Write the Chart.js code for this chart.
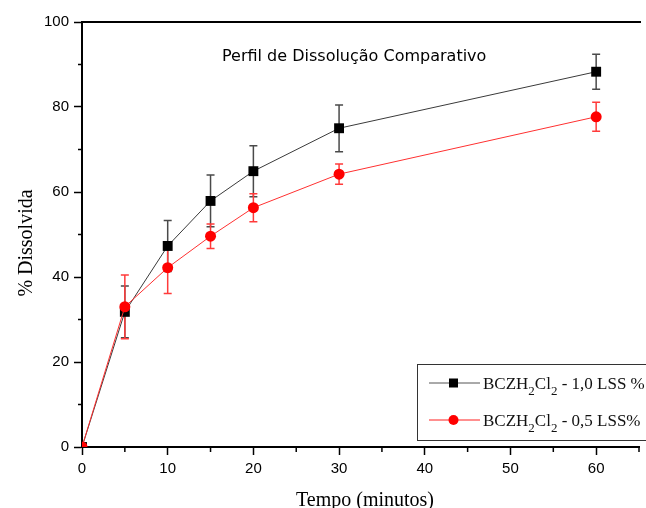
<!DOCTYPE html>
<html>
<head>
<meta charset="utf-8">
<script src="https://cdn.jsdelivr.net/npm/chart.js@4.4.0/dist/chart.umd.min.js"></script>
<style>
  html, body { margin: 0; padding: 0; background: #fff; overflow: hidden; }
  #wrap { width: 646px; height: 508px; }
</style>
</head>
<body>
<div id="wrap"><canvas id="chart" width="646" height="508"></canvas></div>
<script>
// dissolution profile: time (min) vs % dissolved, mean ± sd
const times = [0, 5, 10, 15, 20, 30, 60];
const dissolved10 = [0, 31.8, 47.3, 57.9, 64.9, 75.0, 88.3];
const sd10 = [0, 6.1, 6.0, 6.1, 6.0, 5.5, 4.1];
const dissolved05 = [0, 33.0, 42.2, 49.6, 56.3, 64.2, 77.7];
const sd05 = [0, 7.5, 6.1, 2.9, 3.3, 2.4, 3.4];
const xTicks = [0, 10, 20, 30, 40, 50, 60];
const xMinor = [5, 15, 25, 35, 45, 55, 65];
const yMinor = [10, 30, 50, 70, 90];

const chartTitle = 'Perfil de Dissolução Comparativo';
const xTitle = 'Tempo (minutos)';
const yTitle = '% Dissolvida';
// legend labels, split into [text, isSubscript]
const legend10 = [['BCZH', 0], ['2', 1], ['Cl', 0], ['2', 1], [' - 1,0 LSS %', 0]];
const legend05 = [['BCZH', 0], ['2', 1], ['Cl', 0], ['2', 1], [' - 0,5 LSS%', 0]];

const toPoints = (ys) => times.map((t, i) => ({ x: t, y: ys[i] }));

const SERIF = '"Liberation Serif", "Times New Roman", serif';
const SANS = '"Liberation Sans", Arial, sans-serif';

function drawRich(ctx, parts, x, y) {
  for (const [txt, sub] of parts) {
    ctx.font = sub ? '13px ' + SERIF : '17px ' + SERIF;
    ctx.fillText(txt, x, sub ? y + 6 : y);
    x += ctx.measureText(txt).width;
  }
}

const extras = {
  id: 'extras',
  beforeDatasetsDraw(chart) {
    const { ctx, scales: { x, y } } = chart;
    const bars = [
      { ys: dissolved10, err: sd10, color: '#4a4a4a' },
      { ys: dissolved05, err: sd05, color: '#ff3b3b' }
    ];
    ctx.save();
    ctx.lineWidth = 1.5;
    bars.forEach(b => {
      ctx.strokeStyle = b.color;
      times.forEach((t, i) => {
        if (!b.err[i]) return;
        const px = x.getPixelForValue(t);
        const top = y.getPixelForValue(b.ys[i] + b.err[i]);
        const bot = y.getPixelForValue(b.ys[i] - b.err[i]);
        ctx.beginPath();
        ctx.moveTo(px, top); ctx.lineTo(px, bot);
        ctx.moveTo(px - 4, top); ctx.lineTo(px + 4, top);
        ctx.moveTo(px - 4, bot); ctx.lineTo(px + 4, bot);
        ctx.stroke();
      });
    });
    ctx.restore();
  },
  afterDraw(chart) {
    const { ctx, chartArea: a, scales: { x, y } } = chart;
    ctx.save();
    ctx.strokeStyle = '#000';
    ctx.lineWidth = 2;
    // top frame
    ctx.beginPath();
    ctx.moveTo(a.left - 1, a.top);
    ctx.lineTo(a.right + 2, a.top);
    ctx.stroke();
    // minor ticks
    ctx.lineWidth = 1.5;
    ctx.beginPath();
    xMinor.forEach(v => {
      const px = x.getPixelForValue(v);
      ctx.moveTo(px, a.bottom); ctx.lineTo(px, a.bottom + 5);
    });
    yMinor.forEach(v => {
      const py = y.getPixelForValue(v);
      ctx.moveTo(a.left, py); ctx.lineTo(a.left - 4, py);
    });
    ctx.stroke();

    // chart title
    ctx.fillStyle = '#000';
    ctx.font = '16px "DejaVu Sans", Tahoma, sans-serif';
    ctx.textBaseline = 'alphabetic';
    ctx.textAlign = 'left';
    ctx.fillText(chartTitle, 222, 61);

    // axis titles
    ctx.font = '20px ' + SERIF;
    ctx.textAlign = 'center';
    ctx.fillText(xTitle, 365, 506);
    ctx.save();
    ctx.translate(32, 243);
    ctx.rotate(-Math.PI / 2);
    ctx.fillText(yTitle, 0, 0);
    ctx.restore();

    // legend box
    ctx.fillStyle = '#fff';
    ctx.fillRect(417, 364, 240, 76);
    ctx.strokeStyle = '#333';
    ctx.lineWidth = 1;
    ctx.strokeRect(417.5, 364.5, 240, 76);
    const rows = [
      { parts: legend10, y: 383, color: '#555', marker: 'sq' },
      { parts: legend05, y: 420, color: '#ff2020', marker: 'dot' }
    ];
    rows.forEach(r => {
      ctx.strokeStyle = r.color;
      ctx.lineWidth = 1;
      ctx.beginPath();
      ctx.moveTo(429, r.y); ctx.lineTo(480, r.y);
      ctx.stroke();
      if (r.marker === 'sq') {
        ctx.fillStyle = '#000';
        ctx.fillRect(449, r.y - 4.5, 9, 9);
      } else {
        ctx.fillStyle = '#ff0000';
        ctx.beginPath();
        ctx.arc(453.5, r.y, 5, 0, Math.PI * 2);
        ctx.fill();
      }
      ctx.fillStyle = '#111';
      ctx.textAlign = 'left';
      drawRich(ctx, r.parts, 483, r.y + 6);
    });
    ctx.restore();
  }
};

new Chart(document.getElementById('chart'), {
  type: 'line',
  data: {
    datasets: [
      {
        label: 'BCZH2Cl2 - 1,0 LSS %',
        data: toPoints(dissolved10),
        order: 1,
        borderColor: '#3a3a3a',
        borderWidth: 1,
        pointStyle: 'rect',
        pointRadius: 7,
        pointBackgroundColor: '#000',
        pointBorderColor: '#000',
        pointBorderWidth: 0,
        tension: 0
      },
      {
        label: 'BCZH2Cl2 - 0,5 LSS%',
        data: toPoints(dissolved05),
        order: 0,
        borderColor: '#ff3030',
        borderWidth: 1,
        pointStyle: 'circle',
        pointRadius: 5.5,
        pointBackgroundColor: '#ff0000',
        pointBorderColor: '#ff0000',
        pointBorderWidth: 0,
        tension: 0
      }
    ]
  },
  options: {
    responsive: false,
    animation: false,
    layout: { padding: { left: 0, top: 22, right: 0, bottom: 0 } },
    plugins: { legend: { display: false }, tooltip: { enabled: false } },
    scales: {
      x: {
        type: 'linear',
        min: 0,
        max: 65,
        afterBuildTicks: (s) => { s.ticks = xTicks.map(v => ({ value: v })); },
        afterFit: (s) => { s.height = 61; },
        grid: { drawOnChartArea: false, drawTicks: true, tickLength: 8, tickColor: '#000', tickWidth: 1.5 },
        border: { display: true, color: '#000', width: 2 },
        ticks: { color: '#000', font: { family: SANS, size: 15 }, padding: 5, maxRotation: 0 }
      },
      y: {
        min: 0,
        max: 100,
        afterFit: (s) => { s.width = 82; },
        grid: { drawOnChartArea: false, drawTicks: true, tickLength: 8, tickColor: '#000', tickWidth: 1.5 },
        border: { display: true, color: '#000', width: 2 },
        ticks: { stepSize: 20, color: '#000', font: { family: SANS, size: 15 }, padding: 5 }
      }
    }
  },
  plugins: [extras]
});
</script>
</body>
</html>
